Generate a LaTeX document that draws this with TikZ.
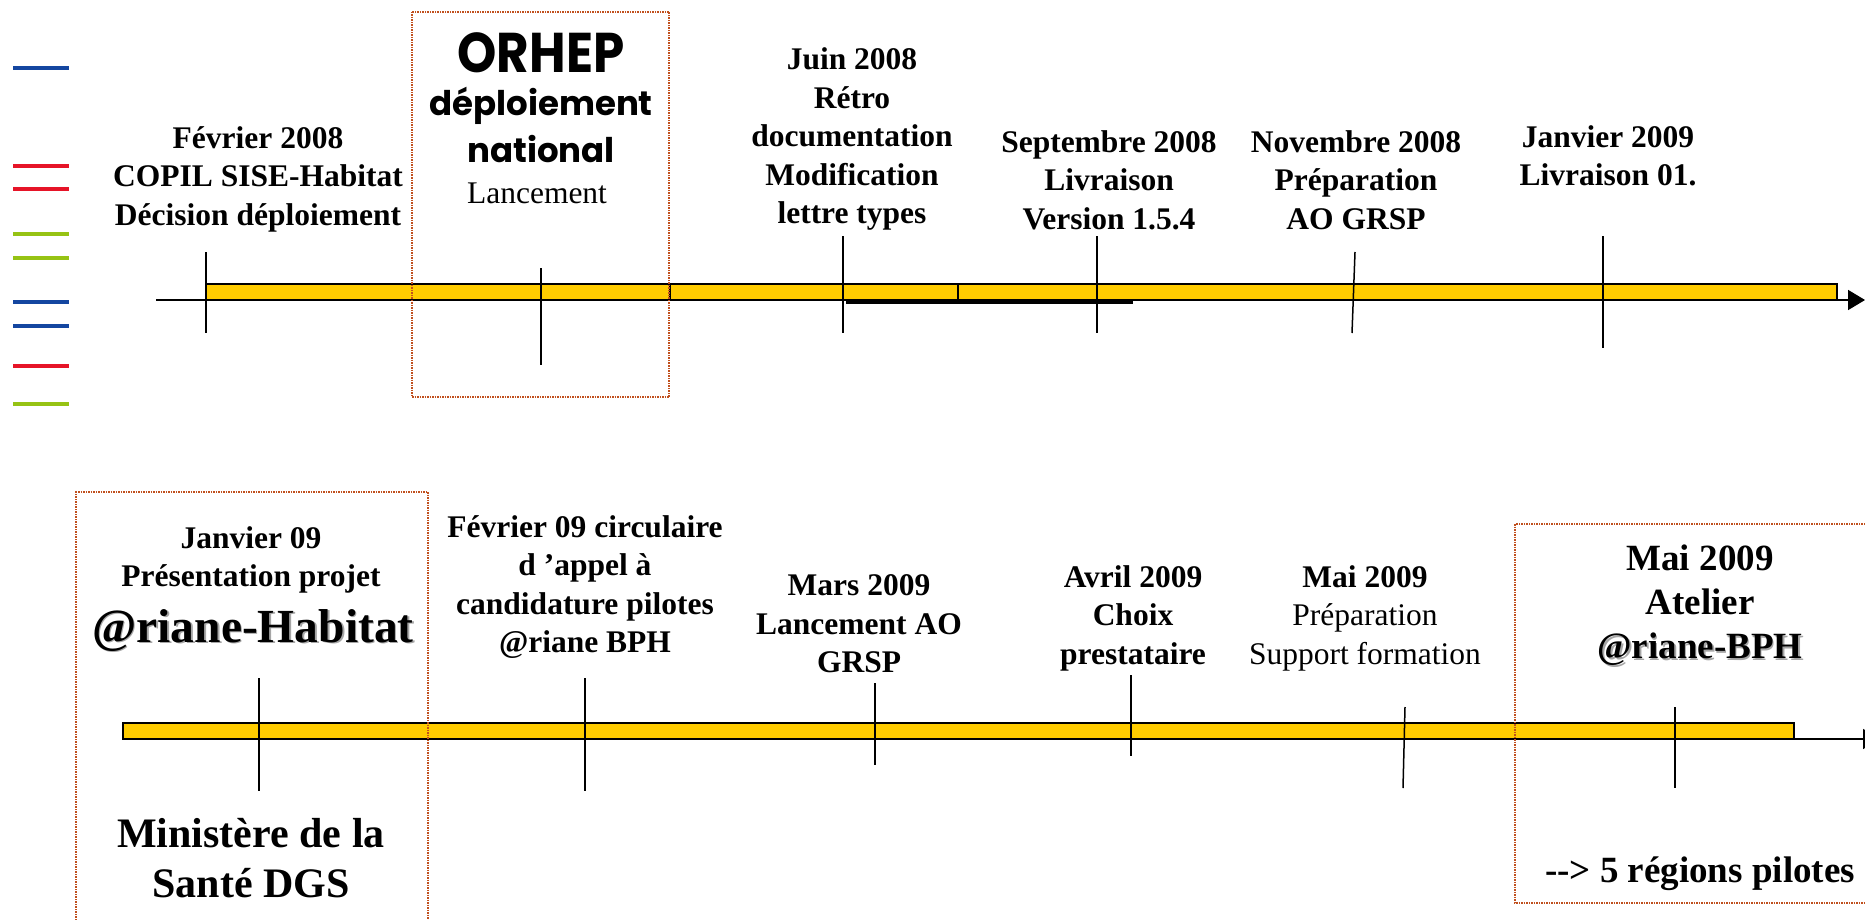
\documentclass[tikz,border=0pt]{standalone}
\usepackage{fontspec}
\setmainfont{Liberation Serif}
\newfontfamily\orhepfont{Poppins}
\usetikzlibrary{arrows.meta}

\definecolor{barfill}{RGB}{255,204,0}
\definecolor{boxbrown}{RGB}{192,80,30}
\definecolor{legblue}{RGB}{20,70,160}
\definecolor{legred}{RGB}{230,20,40}
\definecolor{leggreen}{RGB}{150,195,20}

\newcommand\shadowtext[1]{\makebox[0pt][l]{\kern1.5pt\raisebox{-1.5pt}{\textcolor{black!35}{#1}}}#1}

\tikzset{
  lbl/.style={font=\bfseries\fontsize{31.5}{38.5}\selectfont, align=center, inner sep=0pt},
  lblrg/.style={font=\fontsize{31.5}{38.5}\selectfont, align=center, inner sep=0pt},
  bar/.style={fill=barfill, draw=black, line width=2pt},
  axis/.style={draw=black, line width=1.5pt},
  tick/.style={draw=black, line width=1.5pt},
  frame/.style={draw=boxbrown, densely dotted, line width=1.5pt},
  leg/.style={line width=3.5pt}
}

\begin{document}
\begin{tikzpicture}[x=1pt, y=-1pt]
  \useasboundingbox (0,0) rectangle (1865,920);
  \clip (0,0) rectangle (1865,920);

  % legend strokes, left margin
  \foreach \y/\c in {68/legblue, 166/legred, 189/legred, 234/leggreen, 258/leggreen,
                     302/legblue, 326/legblue, 366/legred, 404/leggreen}
    \draw[leg, \c] (13,\y) -- (69,\y);

  % — top timeline (2008) —
  \draw[axis, -{Triangle[length=17pt, width=20pt]}] (156,300) -- (1865,300);
  \draw[bar] (206,284) rectangle (670,300);
  \draw[bar] (670,284) rectangle (958,300);
  \draw[bar] (958,284) rectangle (1837,300);
  \draw[line width=3.5pt] (846,302) -- (1133,302);
  \foreach \xa/\xb/\ya/\yb in {206/206/252/333, 541/541/268/365, 843/843/236/333,
                               1097/1097/236/333, 1355/1352/252/333, 1603/1603/236/348}
    \draw[tick] (\xa,\ya) -- (\xb,\yb);

  % ORHEP frame
  \draw[frame] (412,12) rectangle (669,397);
  \node[anchor=base, inner sep=0pt, font=\orhepfont\bfseries\fontsize{50}{50}\selectfont] (orhep) at (541,73) {\scalebox{1}[1.12]{ORHEP}};
  \node[anchor=base, inner sep=0pt, font=\orhepfont\bfseries\fontsize{34}{34}\selectfont] (orhepdep) at (541,116) {déploiement};
  \node[anchor=base, inner sep=0pt, font=\orhepfont\bfseries\fontsize{34}{34}\selectfont] (orhepnat) at (541,163) {national};
  \node[lblrg, anchor=base] (lanc) at (537,204) {Lancement};

  % event labels, top
  \node[lbl] (feb08) at (258,179) {Février 2008\\COPIL SISE-Habitat\\Décision déploiement};
  \node[lbl] (juin08) at (852,139) {Juin 2008\\Rétro\\documentation\\Modification\\lettre types};
  \node[lbl] (sep08) at (1109,180) {Septembre 2008\\Livraison\\Version 1.5.4};
  \node[lbl] (nov08) at (1356,180) {Novembre 2008\\Préparation\\AO GRSP};
  \node[lbl] (jan09a) at (1608,156) {Janvier 2009\\Livraison 01.};

  % — bottom timeline (2009) —
  \draw[axis, -{Triangle[length=17pt, width=20pt]}] (1700,739) -- (1880,739);
  \draw[bar] (123,723) rectangle (1794,739);
  \foreach \xa/\xb/\ya/\yb in {259/259/678/791, 585/585/678/791, 875/875/683/765,
                               1131/1131/675/756, 1405/1403/707/788, 1675/1675/707/788}
    \draw[tick] (\xa,\ya) -- (\xb,\yb);

  % frames
  \draw[frame] (76,930) -- (76,492) -- (428,492) -- (428,930);
  \draw[frame] (1880,524) -- (1515,524) -- (1515,903) -- (1880,903);

  % event labels, bottom
  \node[lbl] (jan09) at (251,560) {Janvier 09\\Présentation projet};
  \node[anchor=base, inner sep=0pt, font=\bfseries\fontsize{47.5}{47.5}\selectfont] (ariane) at (253,642) {\shadowtext{@riane-Habitat}};
  \node[align=center, inner sep=0pt, font=\bfseries\fontsize{42}{50}\selectfont] (dgs) at (251,858) {Ministère de la\\Santé DGS};
  \node[lbl] (fev09) at (585,587) {Février 09 circulaire\\d ’appel à\\candidature pilotes\\@riane BPH};
  \node[lbl] (mar09) at (859,624) {Mars 2009\\Lancement AO\\GRSP};
  \node[lbl] (avr09) at (1133,618) {Avril 2009\\Choix\\prestataire};
  \node[lblrg] (mai09) at (1365,618) {\textbf{Mai 2009}\\Préparation\\Support formation};
  \node[align=center, inner sep=0pt, font=\bfseries\fontsize{37}{44}\selectfont] (mai09b) at (1700,606) {Mai 2009\\Atelier\\\shadowtext{@riane-BPH}};
  \node[inner sep=0pt, font=\bfseries\fontsize{37}{37}\selectfont] (pilotes) at (1700,874) {-\kern0pt-\kern0pt> 5 régions pilotes};
\end{tikzpicture}
\end{document}
